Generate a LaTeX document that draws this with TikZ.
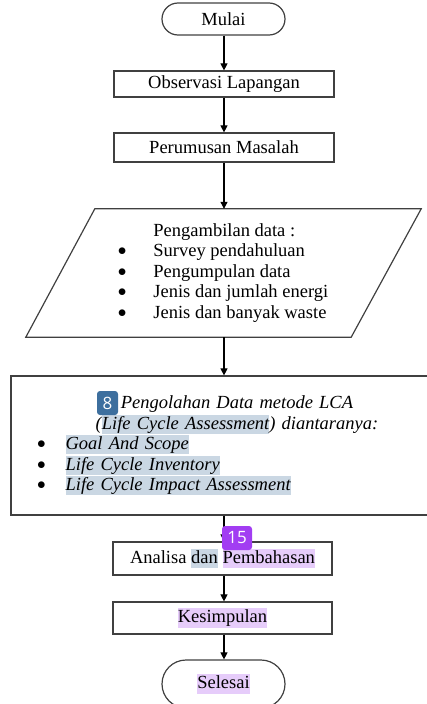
\documentclass[tikz,border=0pt]{standalone}
\usepackage{fontspec}
\setmainfont{Liberation Serif}
\newfontfamily\badgefont{Open Sans}
\usetikzlibrary{positioning,arrows.meta}

\definecolor{garis}{HTML}{404040}
\definecolor{hlbiru}{HTML}{CAD7E3}
\definecolor{hlungu}{HTML}{E6CCFA}
\definecolor{lencanabiru}{HTML}{3D6F9E}
\definecolor{lencanaungu}{HTML}{A23DF2}
\newcommand{\hlbiru}[1]{{\setlength{\fboxsep}{0pt}\colorbox{hlbiru}{\rule[-4.8pt]{0pt}{19.3pt}#1}}}
\newcommand{\hlungu}[1]{{\setlength{\fboxsep}{0pt}\colorbox{hlungu}{\rule[-4.8pt]{0pt}{19.3pt}#1}}}
\newcommand{\titik}{\raisebox{1pt}{$\bullet$}}

\begin{document}
\begin{tikzpicture}[x=1pt,y=-1pt,
   every node/.style={font=\fontsize{18.5}{20.5}\selectfont},
   proses/.style={draw=garis,line width=1.2pt,minimum width=220pt,inner sep=0pt},
   terminal/.style={draw=garis,line width=1.2pt,minimum width=123pt,inner sep=0pt},
   panah/.style={draw=black,line width=1.1pt,-{Triangle[length=7pt,width=7pt]}},
   lencana/.style={text=white,rounded corners=3pt,inner sep=0pt,font=\badgefont\fontsize{17}{17}\selectfont}]
   \useasboundingbox (0,0) rectangle (426,704);

   \node[terminal,minimum height=32pt,rounded corners=16pt] (mulai) at (223.5,19) {Mulai};
   \node[proses,minimum height=26pt] (observasi) at (224,84) {Observasi Lapangan};
   \node[proses,minimum height=29pt] (rumusan) at (224,147.5) {Perumusan Masalah};

   % data input (parallelogram)
   \node[minimum width=256pt,minimum height=128pt,inner sep=0pt] (data) at (223,273)
     {\begin{tabular}{@{}c@{\hspace{27pt}}l@{}}
        & Pengambilan data :\\
        \titik & Survey pendahuluan\\
        \titik & Pengumpulan data\\
        \titik & Jenis dan jumlah energi\\
        \titik & Jenis dan banyak waste
      \end{tabular}};
   \draw[garis,line width=1.2pt] (data.north west) -- ([xshift=70pt]data.north east)
     -- (data.south east) -- ([xshift=-69pt]data.south west) -- cycle;

   \node[draw=garis,line width=1.2pt,minimum width=452pt,minimum height=139pt,
         text width=440pt,inner sep=6pt] (olah) at (237,445.5)
     {{\centering\itshape Pengolahan Data metode LCA\\
        (\hlbiru{Life Cycle Assessment}) diantaranya:\par}
      \raggedright
      \hspace*{20pt}\titik\hspace{20pt}\hlbiru{\itshape Goal And Scope}\\
      \hspace*{20pt}\titik\hspace{20pt}\hlbiru{\itshape Life Cycle Inventory}\\
      \hspace*{20pt}\titik\hspace{20pt}\hlbiru{\itshape Life Cycle Impact Assessment}\par};

   \node[proses,minimum width=219pt,minimum height=33pt] (analisa) at (222.5,558.5)
     {Analisa \hlbiru{dan} \hlungu{Pembahasan}};
   \node[proses,minimum width=219pt,minimum height=32pt] (kesimpulan) at (222.5,618)
     {\hlungu{Kesimpulan}};
   \node[terminal,minimum height=48pt,rounded corners=24pt] (selesai) at (223.5,684)
     {\hlungu{Selesai}};

   \draw[panah] (observasi.north |- mulai.south) -- (observasi.north);
   \draw[panah] (observasi.south) -- (rumusan.north);
   \draw[panah] (rumusan.south) -- (rumusan.south |- data.north);
   \draw[panah] (rumusan.south |- data.south) -- (rumusan.south |- olah.north);
   \draw[panah] (rumusan.south |- olah.south) -- (rumusan.south |- analisa.north);
   \draw[panah] (rumusan.south |- analisa.south) -- (rumusan.south |- kesimpulan.north);
   \draw[panah] (rumusan.south |- kesimpulan.south) -- (rumusan.south |- selesai.north);

   % annotation badges
   \node[lencana,fill=lencanabiru,minimum width=21pt,minimum height=24pt] (lencana8) at (107.5,403) {8};
   \node[lencana,fill=lencanaungu,minimum width=30pt,minimum height=24pt] (lencana15) at (237,538) {15};
\end{tikzpicture}
\end{document}
